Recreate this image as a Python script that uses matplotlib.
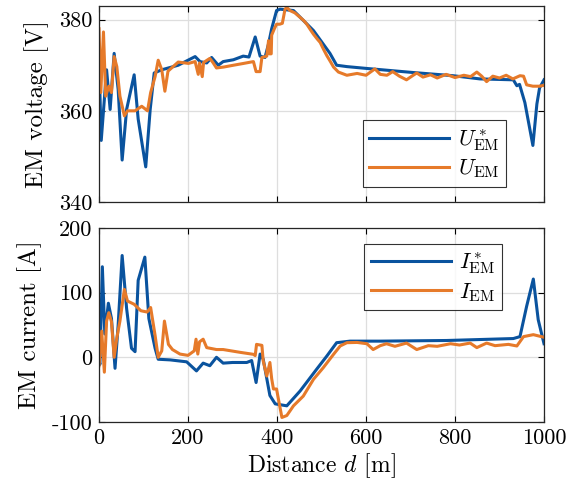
import numpy as np
import matplotlib
matplotlib.use("Agg")
import matplotlib.pyplot as plt

# --- style: mimic MATLAB/LaTeX look ---
plt.rcParams['font.family'] = ['cmr10', 'DejaVu Serif']
plt.rcParams['mathtext.fontset'] = 'cm'
plt.rcParams['axes.unicode_minus'] = False
plt.rcParams['axes.formatter.use_mathtext'] = False

blue = '#0a539e'
orange = '#e67a2a'

# --- EM voltage, reference U* (blue) ---
u_ref_d = [0, 5, 17, 25, 34, 43, 52, 62, 79, 88, 105, 115, 124, 141, 178, 216,
           227, 242, 253, 268, 279, 302, 324, 337, 351, 362, 373, 381, 388, 399,
           407, 437, 482, 519, 534, 557, 601, 706, 796, 856, 931, 939, 945, 957,
           975, 984, 990, 1000]
u_ref_v = [371, 353.5, 369, 360.3, 372.6, 364.7, 349.2, 360.3, 367.9, 358.2, 347.7,
           360.3, 368.3, 369, 370, 371.9, 370.8, 370.5, 371.7, 370, 370.8, 371.2,
           372, 371.8, 376.2, 372, 371.7, 374.7, 378, 382, 382.3, 382, 377.6, 372.6,
           370, 369.7, 369.3, 368.4, 367.7, 367, 366.8, 365.5, 365.8, 361.8, 352.4,
           361.5, 365, 366.8]

# --- EM voltage, measured U (orange) ---
u_d = [0, 4, 10, 15, 22, 28, 34, 40, 47, 57, 64, 81, 96, 109, 116, 126, 133, 141,
       148, 155, 178, 201, 216, 223, 226, 232, 235, 249, 256, 264, 280, 302, 325,
       347, 353, 362, 366, 377, 381, 383, 387, 388, 394, 399, 406, 412, 418, 422,
       429, 440, 452, 460, 467, 475, 482, 490, 497, 505, 512, 520, 527, 538, 557,
       580, 600, 620, 632, 647, 660, 675, 691, 703, 714, 728, 745, 760, 780, 800,
       820, 835, 849, 860, 871, 885, 900, 915, 930, 946, 954, 961, 975, 990, 1000]
u_v = [378, 364, 377.3, 363.2, 365.4, 364, 371.9, 369.7, 363.2, 358.9, 360, 360,
       361, 360, 364, 367.5, 371.1, 369, 364.3, 368.7, 370.7, 370.4, 370.8, 368,
       370.5, 367.5, 370.6, 371.5, 370.6, 369.4, 369.6, 370, 370.4, 370.8, 368.6,
       368.6, 371.7, 372, 375.4, 372.5, 372.5, 376.6, 378, 379, 379, 379.2, 382.3,
       382.7, 382, 381.5, 380.5, 379.8, 379, 377.8, 376.8, 375.8, 375, 373.4, 372.1,
       370.8, 369.6, 368.5, 367.8, 368.2, 367.8, 369.2, 368, 367.8, 368.6, 367.6,
       366.8, 367.6, 368.3, 367.4, 367.9, 367.2, 368, 367.3, 367.8, 367.5, 368.5,
       367.6, 366.4, 367.6, 367.2, 367.8, 367, 367.7, 367.6, 365.7, 365.4, 365.4,
       365.6]

# --- EM current, reference I* (blue) ---
i_ref_d = [0, 2, 7.5, 13, 21, 28, 36, 43, 52, 62, 73, 81, 88, 103, 112, 126, 133,
           160, 197, 219, 234, 249, 264, 279, 300, 332, 343, 353, 362, 369, 384,
           396, 422, 452, 489, 512, 534, 564, 631, 781, 931, 946, 961, 976, 987,
           1000]
i_ref_a = [-5, -11, 140, 36, 83.6, 60, -17, 49.7, 157.4, 75.4, 14, 8.7, 119, 154.9,
           60, 14, -3, -4, -7, -21, -9, -13, 0, -9, -8, -8, -5, -39, 5, -3, -59, -72,
           -75, -52, -18.5, 2, 22.6, 25, 25, 26, 29, 32, 79, 121, 58, 21]

# --- EM current, measured I (orange) ---
i_d = [0, 6, 12, 17, 22, 28, 34, 40, 47, 57, 64, 79, 94, 108, 116, 126, 133, 141,
       147, 156, 165, 182, 200, 214, 218, 222, 226, 234, 242, 264, 279, 317, 347,
       351, 354, 366, 369, 377, 384, 388, 392, 399, 403, 411, 422, 437, 459, 482,
       504, 527, 542, 557, 580, 602, 616, 632, 646, 665, 691, 714, 740, 760, 790,
       810, 834, 849, 871, 890, 920, 939, 954, 976, 1000]
i_a = [-13, 40.5, -23, 56, 69, 55, 0, 30, 56, 105, 87, 82, 72, 70, 77, 34, 0, 10,
       56, 20, 12, 5, 3, 10, 28, 5, 24, 28, 15, 12, 12, 7.7, 4.6, 2.6, 20, 18.5,
       -5.6, -29, -8, -33, -49, -49, -64, -93, -90, -75, -60, -34, -16, 4.6, 17.5,
       22.6, 23, 21, 12, 18, 21, 17, 22, 12, 18, 17, 21, 19, 22, 15, 22, 18, 20,
       17.5, 32, 35, 31]

fig = plt.figure(figsize=(5.75, 4.9), dpi=100)
ax1 = fig.add_axes([0.1722, 0.5878, 0.7739, 0.4])
ax2 = fig.add_axes([0.1722, 0.1388, 0.7739, 0.396])

for ax in (ax1, ax2):
    ax.grid(True, color='#dedede', linewidth=0.9)
    ax.set_axisbelow(True)
    ax.tick_params(direction='in', top=True, right=True, labelsize=16,
                   length=4, width=0.8, pad=5)
    ax.set_xlim(0, 1000)
    ax.set_xticks([0, 200, 400, 600, 800, 1000])
    for s in ax.spines.values():
        s.set_linewidth(0.9)
        s.set_color('#262626')

leg_kw = dict(fontsize=16, fancybox=False, edgecolor='black', handlelength=3.6,
              borderpad=0.3, labelspacing=0.2, handletextpad=0.4,
              borderaxespad=0)

ax1.plot(u_ref_d, u_ref_v, color=blue, lw=2.2, label=r'$U^*_{\mathrm{EM}}$')
ax1.plot(u_d, u_v, color=orange, lw=2.2, label=r'$U_{\mathrm{EM}}$')
ax1.set_ylim(340, 383)
ax1.set_yticks([340, 360, 380])
ax1.set_xticklabels([])
ax1.set_ylabel('EM voltage [V]', fontsize=18, labelpad=7)
leg1 = ax1.legend(loc='lower right', bbox_to_anchor=(0.915, 0.077), **leg_kw)
leg1.get_frame().set_linewidth(0.8)

ax2.plot(i_ref_d, i_ref_a, color=blue, lw=2.2, label=r'$I^*_{\mathrm{EM}}$')
ax2.plot(i_d, i_a, color=orange, lw=2.2, label=r'$I_{\mathrm{EM}}$')
ax2.set_ylim(-100, 200)
ax2.set_yticks([-100, 0, 100, 200])
ax2.set_ylabel('EM current [A]', fontsize=18, labelpad=7)
ax2.set_xlabel(r'Distance $d$ [m]', fontsize=17, labelpad=2)
leg2 = ax2.legend(loc='upper right', bbox_to_anchor=(0.906, 0.918), **leg_kw)
leg2.get_frame().set_linewidth(0.8)

fig.savefig('out.png', dpi=100)
